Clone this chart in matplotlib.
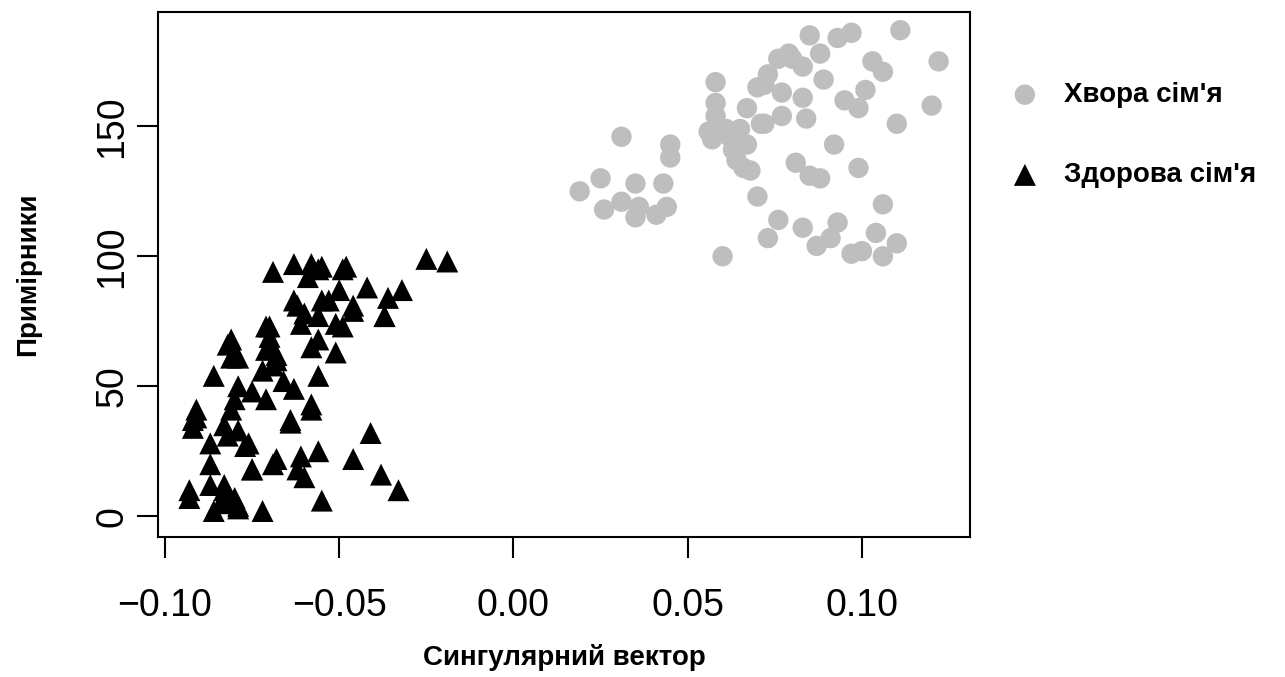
import matplotlib
matplotlib.use("Agg")
import matplotlib.pyplot as plt
from matplotlib import font_manager

# grey circles - "sick" families
sick_x = [0.058, 0.058, 0.058, 0.031, 0.045, 0.045, 0.070, 0.073, 0.076, 0.067,
          0.071, 0.065, 0.056, 0.061, 0.085, 0.093, 0.097, 0.111, 0.079, 0.080,
          0.088, 0.083, 0.089, 0.103, 0.106, 0.122, 0.072, 0.077, 0.083, 0.095,
          0.101, 0.099, 0.077, 0.084, 0.072, 0.110, 0.120, 0.092, 0.043, 0.019,
          0.025, 0.026, 0.035, 0.036, 0.035, 0.041, 0.044, 0.031, 0.063, 0.066,
          0.068, 0.070, 0.073, 0.076, 0.060, 0.081, 0.085, 0.088, 0.099, 0.106,
          0.083, 0.087, 0.093, 0.091, 0.097, 0.100, 0.104, 0.110, 0.106, 0.057,
          0.062, 0.064, 0.067]
sick_y = [167, 159, 154, 146, 143, 138, 165, 170, 176, 157,
          151, 149, 148, 149, 185, 184, 186, 187, 178, 176,
          178, 173, 168, 175, 171, 175, 166, 163, 161, 160,
          164, 157, 154, 153, 151, 151, 158, 143, 128, 125,
          130, 118, 128, 119, 115, 116, 119, 121, 141, 134,
          133, 123, 107, 114, 100, 136, 131, 130, 134, 120,
          111, 104, 113, 107, 101, 102, 109, 105, 100, 145,
          146, 137, 143]

# black triangles - "healthy" families
healthy_x = [-0.025, -0.019, -0.063, -0.069, -0.056, -0.049, -0.059, -0.042, -0.032, -0.036,
             -0.050, -0.053, -0.062, -0.046, -0.037, -0.056, -0.061, -0.049, -0.070, -0.056,
             -0.051, -0.070, -0.081, -0.082, -0.071, -0.079, -0.068, -0.069, -0.072, -0.056,
             -0.086, -0.066, -0.079, -0.075, -0.063, -0.071, -0.080, -0.058, -0.058, -0.091,
             -0.081, -0.092, -0.092, -0.083, -0.064, -0.082, -0.041, -0.087, -0.077, -0.061,
             -0.056, -0.068, -0.087, -0.046, -0.075, -0.069, -0.062, -0.038, -0.087, -0.083,
             -0.093, -0.033, -0.080, -0.093, -0.084, -0.079, -0.055, -0.072, -0.086, -0.058,
             -0.055, -0.048, -0.037, -0.051, -0.046, -0.055, -0.058, -0.071, -0.070, -0.081,
             -0.068, -0.060, -0.063, -0.091, -0.081, -0.079, -0.076, -0.075, -0.060, -0.064,
             -0.083, -0.079]
healthy_y = [99, 98, 97, 94, 95, 95, 92, 88, 87, 84,
             87, 83, 81, 81, 77, 77, 74, 73, 73, 68,
             63, 69, 68, 66, 64, 61, 62, 58, 56, 54,
             54, 52, 50, 48, 49, 45, 45, 43, 41, 41,
             41, 37, 34, 35, 37, 31, 32, 28, 27, 23,
             25, 22, 20, 22, 18, 20, 18, 16, 12, 12,
             10, 10, 7, 7, 5, 3, 6, 2, 2, 97,
             96, 96, 77, 74, 79, 83, 65, 73, 66, 61,
             60, 78, 83, 38, 6, 33, 28, 18, 15, 36,
             10, 4]

names = {f.name for f in font_manager.fontManager.ttflist}
narrow = "Liberation Sans Narrow" if "Liberation Sans Narrow" in names else "Liberation Sans"

fig = plt.figure(figsize=(12.85, 6.77), dpi=100)
ax = fig.add_axes([158 / 1285, 1 - 537 / 677, (970 - 158) / 1285, (537 - 12) / 677])

ax.scatter(sick_x, sick_y, s=215, marker="o", color="#BEBEBE", edgecolors="none",
           label="Хвора сім'я", zorder=2)
ax.scatter(healthy_x, healthy_y, s=250, marker="^", color="black", edgecolors="none",
           label="Здорова сім'я", zorder=3)

ax.set_xlim(-0.102, 0.131)
ax.set_ylim(-8, 194)
ax.set_xticks([-0.10, -0.05, 0.00, 0.05, 0.10])
ax.set_xticklabels(["\u22120.10", "\u22120.05", "0.00", "0.05", "0.10"])
ax.set_yticks([0, 50, 100, 150])

for sp in ax.spines.values():
    sp.set_linewidth(1.5)
    sp.set_color("black")

ax.tick_params(axis="both", direction="out", length=15, width=1.5)
ax.tick_params(axis="x", pad=22)
ax.tick_params(axis="y", pad=5)
for lab in ax.get_xticklabels() + ax.get_yticklabels():
    lab.set_fontfamily(narrow)
    lab.set_fontsize(27)
for lab in ax.get_yticklabels():
    lab.set_rotation(90)
    lab.set_verticalalignment("center")

ax.set_xlabel("Сингулярний вектор", fontsize=20, fontweight="bold",
              fontfamily="Liberation Sans", labelpad=14)
ax.set_ylabel("Примірники", fontsize=20, fontweight="bold",
              fontfamily="Liberation Sans", labelpad=38)

ax.legend(loc="upper left", bbox_to_anchor=(1011 / 1285, 1 - 82 / 677),
          bbox_transform=fig.transFigure, frameon=False, borderpad=0,
          borderaxespad=0, handlelength=1, handletextpad=0.9, labelspacing=1.95,
          scatterpoints=1, prop={"family": "Liberation Sans", "weight": "bold", "size": 20})

fig.savefig("out.png", dpi=100)
